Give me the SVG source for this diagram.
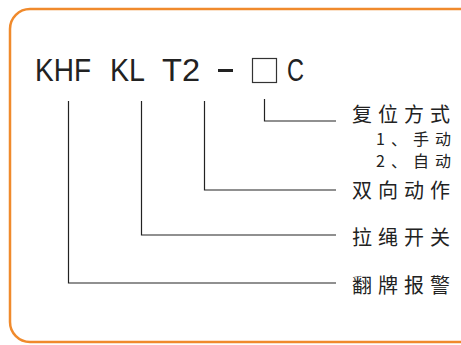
<svg xmlns="http://www.w3.org/2000/svg" width="461" height="345" viewBox="0 0 461 345">
<style>
.frame{fill:#fff;stroke:#F08A2C;stroke-width:2.5}
.code{font-family:"Liberation Sans",Arial,sans-serif;font-size:32px;fill:#222}
.lbl{font-family:"Noto Sans CJK SC","Noto Sans",sans-serif;font-size:20px;fill:#222;letter-spacing:6px}
.sub{font-family:"Noto Sans CJK SC","Noto Sans",sans-serif;font-size:16px;fill:#222;letter-spacing:6px}
.ln{fill:none;stroke:#222;stroke-width:1.2}
</style>
<rect class="frame" x="10" y="9" width="475" height="333" rx="20"/>
<g id="code">
<text class="code" x="35" y="81" textLength="56" lengthAdjust="spacingAndGlyphs">KHF</text>
<text class="code" x="110" y="81" textLength="35" lengthAdjust="spacingAndGlyphs">KL</text>
<text class="code" x="162" y="81" textLength="38" lengthAdjust="spacingAndGlyphs">T2</text>
<rect x="218" y="69" width="15" height="3" fill="#222"/>
<rect x="252.5" y="58.5" width="24" height="24" fill="none" stroke="#333" stroke-width="1.2"/>
<text class="code" x="287" y="81" textLength="17" lengthAdjust="spacingAndGlyphs">C</text>
</g>
<g id="connectors">
<polyline class="ln" points="264.5,99 264.5,121 336,121"/>
<polyline class="ln" points="204.5,101 204.5,190 336,190"/>
<polyline class="ln" points="141.5,101 141.5,235 336,235"/>
<polyline class="ln" points="68.5,101 68.5,283 336,283"/>
</g>
<g id="reset">
<text class="lbl" x="352" y="122">复位方式</text>
<text class="sub" x="376" y="145">1、手动</text>
<text class="sub" x="376" y="167">2、自动</text>
</g>
<g id="bidirectional"><text class="lbl" x="352" y="198">双向动作</text></g>
<g id="pullrope"><text class="lbl" x="352" y="245">拉绳开关</text></g>
<g id="flag"><text class="lbl" x="352" y="293">翻牌报警</text></g>
</svg>
